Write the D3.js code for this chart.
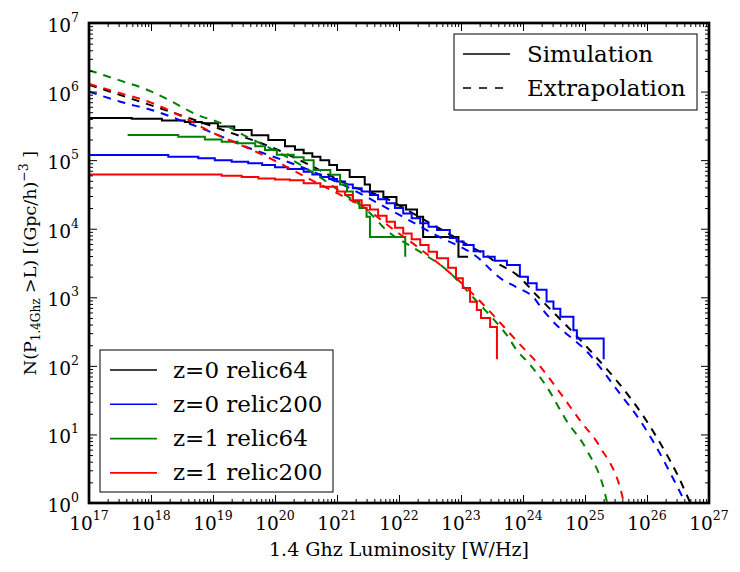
<!DOCTYPE html>
<html><head><meta charset="utf-8">
<script src="https://cdn.jsdelivr.net/npm/d3@7/dist/d3.min.js"></script>
<style>body{margin:0;background:#fff}svg{display:block}text{font-family:"DejaVu Serif",serif;fill:#000}</style>
</head><body>
<script>
// ---- data (L in W/Hz, N in (Gpc/h)^-3) ----
const xTickExps = [17,18,19,20,21,22,23,24,25,26,27];
const yTickExps = [0,1,2,3,4,5,6,7];

const simZ0R64 = [[1e17,4.1e5],[4.9e17,4.0e5],[1.5e18,3.8e5],[3.5e18,3.6e5],[6.6e18,3.45e5],[1.2e19,3.1e5],[2.2e19,2.75e5],[4.2e19,2.3e5],[7.8e19,1.97e5],[1.45e20,1.6e5],[2.1e20,1.42e5],[2.9e20,1.26e5],[4.0e20,1.12e5],[5.4e20,1.0e5],[7.5e20,8.5e4],[1.0e21,7.2e4],[1.6e21,5.7e4],[2.8e21,4.4e4],[3.4e21,3.5e4],[5.6e21,2.9e4],[9.1e21,2.2e4],[1.3e22,1.9e4],[1.95e22,1.5e4],[2.45e22,7.6e3],[9.1e22,3.9e3],[1.3e23,3.9e3]];
const simZ0R200 = [[1e17,1.19e5],[1.9e18,1.12e5],[5.8e18,1.07e5],[1.07e19,1.0e5],[2.0e19,9.5e4],[3.7e19,9.0e4],[6.2e19,8.5e4],[1.0e20,7.9e4],[1.6e20,7.4e4],[2.9e20,6.8e4],[4.0e20,6.2e4],[5.4e20,5.7e4],[7.5e20,5.3e4],[1e21,4.9e4],[1.35e21,4.4e4],[1.8e21,3.9e4],[2.5e21,3.5e4],[3.4e21,3.1e4],[4.6e21,2.7e4],[6.3e21,2.35e4],[8.6e21,2.0e4],[1.17e22,1.67e4],[1.6e22,1.42e4],[2.2e22,1.2e4],[3.0e22,1.07e4],[4.1e22,9.6e3],[6.6e22,7.3e3],[8.5e22,6.5e3],[1.1e23,5.8e3],[1.6e23,4.7e3],[2.3e23,3.9e3],[3.5e23,3.4e3],[5.5e23,2.95e3],[8.9e23,2.0e3],[1.2e24,1.6e3],[1.66e24,1.29e3],[2.4e24,8.7e2],[3.1e24,6.8e2],[4.0e24,5.2e2],[6.5e24,3.3e2],[7.4e24,2.5e2],[2.0e25,1.25e2]];
const simZ1R64 = [[4.2e17,2.33e5],[2.75e18,2.2e5],[7.4e18,2.0e5],[1.38e19,1.86e5],[2.5e19,1.77e5],[4.8e19,1.6e5],[6.9e19,1.4e5],[1.07e20,1.2e5],[2.0e20,1.1e5],[2.9e20,1.0e5],[4.2e20,7.2e4],[7.8e20,6.1e4],[1.12e21,4.4e4],[1.45e21,3.5e4],[1.8e21,2.5e4],[2.3e21,2.0e4],[3.0e21,1.5e4],[3.4e21,7.6e3],[1.26e22,3.9e3]];
const simZ1R200 = [[1e17,6.2e4],[1.38e19,5.9e4],[2.9e19,5.7e4],[5.4e19,5.4e4],[1e20,5.2e4],[1.74e20,5.1e4],[2.9e20,4.6e4],[5.4e20,4.1e4],[1e21,3.5e4],[1.35e21,3.1e4],[1.8e21,2.6e4],[2.5e21,2.2e4],[3.4e21,1.9e4],[4.6e21,1.55e4],[6.3e21,1.26e4],[8.6e21,1.03e4],[1.17e22,8.5e3],[1.6e22,7.0e3],[2.2e22,5.8e3],[3.0e22,4.6e3],[4.1e22,3.7e3],[6.2e22,2.7e3],[8.3e22,1.9e3],[1.07e23,1.37e3],[1.4e23,8.6e2],[1.8e23,6.5e2],[2.1e23,5.0e2],[2.95e23,3.7e2],[3.8e23,1.25e2]];

const extZ0R64 = [[1e17,1.26e6],[1.7e18,5.37e5],[5.8e18,3.7e5],[1.66e19,2.63e5],[8e19,1.6e5],[3.6e20,8.5e4],[1.8e21,4.1e4],[6.3e21,2.75e4],[1.5e22,1.78e4],[3.2e22,1.2e4],[6.3e22,8.5e3],[1.3e23,5.75e3],[2.45e23,4.2e3],[3.8e23,3.16e3],[7.9e23,2.14e3],[1.66e24,1.07e3],[1.35e25,1.5e2],[4.7e25,40],[9.8e25,15.8],[1.82e26,6.3],[3.16e26,2.5],[5.0e26,1.0],[5.6e26,0.8]];
const extZ0R200 = [[1e17,1.0e6],[3.8e17,6.8e5],[1.02e18,5.4e5],[3.5e18,3.6e5],[6.6e18,2.9e5],[4e19,1.48e5],[1e20,1.1e5],[2.8e20,7.8e4],[1e21,4.8e4],[1e22,1.6e4],[4e22,8e3],[1.8e23,3.9e3],[4.3e23,1.9e3],[7.9e23,1.4e3],[1.5e24,9.8e2],[2e24,6.9e2],[2.75e24,4.9e2],[1.2e25,1.45e2],[3.6e25,40],[7.8e25,15.8],[1.45e26,6.3],[2.5e26,2.5],[4.2e26,1.0],[4.8e26,0.8]];
const extZ1R64 = [[1e17,2.04e6],[2.95e17,1.48e6],[1.02e18,1.0e6],[1.9e18,7.6e5],[5.5e18,4.6e5],[1.3e19,3.5e5],[3.5e19,2.2e5],[1.2e20,1.26e5],[4.2e20,6.5e4],[1.12e21,3.5e4],[3.2e21,1.78e4],[6.3e21,9.5e3],[1.95e22,4.9e3],[5.9e22,2.5e3],[1.6e23,9.8e2],[2.45e23,6.5e2],[3.8e23,4.2e2],[5.5e23,2.8e2],[7.9e23,1.7e2],[1.23e24,1.1e2],[2.4e24,50],[5e24,16],[1.07e25,5.9],[2.1e25,1.38],[2.4e25,0.8]];
const extZ1R200 = [[1e17,1.29e6],[3.2e17,9.5e5],[1e18,6.9e5],[3.2e18,4.3e5],[1e19,2.5e5],[3.2e19,1.58e5],[1e20,9.8e4],[3.2e20,5.6e4],[1e21,3.3e4],[3.2e21,1.86e4],[7.1e21,1.07e4],[2.45e22,4.7e3],[1.4e23,1.23e3],[3.5e23,5.2e2],[8.3e23,2.2e2],[1.86e24,1.0e2],[4e24,40],[8.3e24,16],[1.74e25,6.6],[3.9e25,1.38],[4.5e25,0.8]];

const seriesNames = ["z=0 relic64","z=0 relic200","z=1 relic64","z=1 relic200"];
const seriesColors = ["#000000","#0000ff","#008000","#ff0000"];
const simData = [simZ0R64, simZ0R200, simZ1R64, simZ1R200];
const extData = [extZ0R64, extZ0R200, extZ1R64, extZ1R200];
const styleNames = ["Simulation","Extrapolation"];

// ---- layout ----
const W = 740, H = 572;
const L = 89, R = 709, T = 23, B = 503;

const svg = d3.select("body").append("svg").attr("width", W).attr("height", H);
svg.append("rect").attr("width", W).attr("height", H).attr("fill", "#fff");

const x = d3.scaleLog().domain([1e17, 1e27]).range([L, R]);
const y = d3.scaleLog().domain([1, 1e7]).range([B, T]);

svg.append("clipPath").attr("id", "clip").append("rect")
  .attr("x", L).attr("y", T).attr("width", R - L).attr("height", B - T);

const plot = svg.append("g").attr("clip-path", "url(#clip)");
const stepLine = d3.line().x(d => x(d[0])).y(d => y(d[1])).curve(d3.curveStepAfter);
const smoothLine = d3.line().x(d => x(d[0])).y(d => y(d[1])).curve(d3.curveMonotoneX);

for (let i = 0; i < 4; i++) {
  plot.append("path").attr("d", stepLine(simData[i]))
    .attr("fill", "none").attr("stroke", seriesColors[i]).attr("stroke-width", 2);
  plot.append("path").attr("d", smoothLine(extData[i]))
    .attr("fill", "none").attr("stroke", seriesColors[i]).attr("stroke-width", 2)
    .attr("stroke-dasharray", "8,7");
}

// ---- axes (inward ticks on all sides) ----
const xMajor = xTickExps.map(e => Math.pow(10, e));
const yMajor = yTickExps.map(e => Math.pow(10, e));
const xMinor = [], yMinor = [];
for (let e = 17; e < 27; e++) for (let k = 2; k <= 9; k++) xMinor.push(k * Math.pow(10, e));
for (let e = 0; e < 7; e++) for (let k = 2; k <= 9; k++) yMinor.push(k * Math.pow(10, e));

function addAxis(axisFn, scale, vals, size, tr) {
  const g = svg.append("g").attr("transform", tr)
    .call(axisFn(scale).tickValues(vals).tickSize(-size).tickFormat(""));
  g.select(".domain").remove();
  g.selectAll(".tick line").attr("stroke", "#000").attr("stroke-width", 1);
  return g;
}
addAxis(d3.axisBottom, x, xMajor, 8, `translate(0,${B})`);
addAxis(d3.axisBottom, x, xMinor, 4, `translate(0,${B})`);
addAxis(d3.axisTop, x, xMajor, 8, `translate(0,${T})`);
addAxis(d3.axisTop, x, xMinor, 4, `translate(0,${T})`);
addAxis(d3.axisLeft, y, yMajor, 8, `translate(${L},0)`);
addAxis(d3.axisLeft, y, yMinor, 4, `translate(${L},0)`);
addAxis(d3.axisRight, y, yMajor, 8, `translate(${R},0)`);
addAxis(d3.axisRight, y, yMinor, 4, `translate(${R},0)`);

svg.append("rect").attr("x", L).attr("y", T).attr("width", R - L).attr("height", B - T)
  .attr("fill", "none").attr("stroke", "#000").attr("stroke-width", 2.7);

// tick labels
xTickExps.forEach(e => {
  const t = svg.append("text").attr("x", x(Math.pow(10, e))).attr("y", 530)
    .attr("text-anchor", "middle").style("font-size", "18.5px");
  t.append("tspan").text("10");
  t.append("tspan").attr("dy", -10).style("font-size", "12.5px").text(String(e));
});
yTickExps.forEach(e => {
  const t = svg.append("text").attr("x", 79).attr("y", y(Math.pow(10, e)) + 9)
    .attr("text-anchor", "end").style("font-size", "18.5px");
  t.append("tspan").text("10");
  t.append("tspan").attr("dy", -10).style("font-size", "12.5px").text(String(e));
});

// axis labels
svg.append("text").attr("x", 399).attr("y", 556).attr("text-anchor", "middle")
  .style("font-size", "19px").text("1.4 Ghz Luminosity [W/Hz]");
const yl = svg.append("text").attr("transform", `translate(36,${(T + B) / 2}) rotate(-90)`)
  .attr("text-anchor", "middle").style("font-size", "17.5px");
yl.append("tspan").text("N(P");
yl.append("tspan").attr("dy", 4).style("font-size", "12px").text("1.4Ghz");
yl.append("tspan").attr("dy", -4).text(" >L) [(Gpc/h)");
yl.append("tspan").attr("dy", -8).style("font-size", "12.5px").text("\u22123");
yl.append("tspan").attr("dy", 8).text(" ]");

// legend: line styles
const lg1 = svg.append("g");
lg1.append("rect").attr("x", 454).attr("y", 34).attr("width", 243).attr("height", 76)
  .attr("fill", "#fff").attr("stroke", "#000").attr("stroke-width", 1);
styleNames.forEach((n, i) => {
  const yy = 54 + i * 34;
  lg1.append("line").attr("x1", 463).attr("x2", 510).attr("y1", yy).attr("y2", yy)
    .attr("stroke", "#000").attr("stroke-width", 1.6)
    .attr("stroke-dasharray", i === 1 ? "8,8" : null);
  lg1.append("text").attr("x", 527).attr("y", yy + 7.5).style("font-size", "23px").text(n);
});

// legend: series
const lg2 = svg.append("g");
lg2.append("rect").attr("x", 100).attr("y", 350).attr("width", 233).attr("height", 142)
  .attr("fill", "#fff").attr("stroke", "#000").attr("stroke-width", 1);
seriesNames.forEach((n, i) => {
  const yy = 370 + i * 34.3;
  lg2.append("line").attr("x1", 110).attr("x2", 157).attr("y1", yy).attr("y2", yy)
    .attr("stroke", seriesColors[i]).attr("stroke-width", 1.6);
  lg2.append("text").attr("x", 173).attr("y", yy + 7.5).style("font-size", "23px").text(n);
});
</script>
</body></html>
